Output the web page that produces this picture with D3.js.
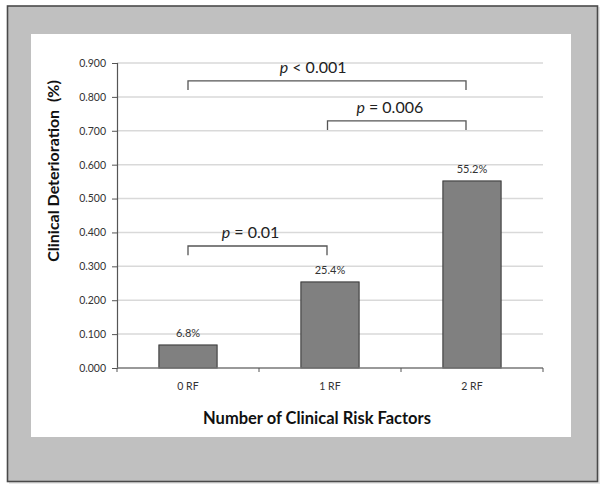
<!DOCTYPE html>
<html>
<head>
<meta charset="utf-8">
<script src="https://cdn.jsdelivr.net/npm/d3@7"></script>
<style>
  html, body { margin: 0; padding: 0; background: #ffffff; }
  svg { display: block; }
</style>
</head>
<body>
<svg id="chart" width="606" height="493"></svg>
<script>
// ---- data ----
const categories = ["0 RF", "1 RF", "2 RF"];
const values = [0.068, 0.254, 0.552];
const valueLabels = ["6.8%", "25.4%", "55.2%"];
const yTicks = [0, 0.1, 0.2, 0.3, 0.4, 0.5, 0.6, 0.7, 0.8, 0.9];
const brackets = [
  { from: "0 RF", to: "2 RF", high: 0.847, leg: 0.820, label: "< 0.001" },
  { from: "1 RF", to: "2 RF", high: 0.729, leg: 0.702, label: "= 0.006" },
  { from: "0 RF", to: "1 RF", high: 0.360, leg: 0.333, label: "= 0.01" }
];
const yTitle = "Clinical Deterioration  (%)";
const xTitle = "Number of Clinical Risk Factors";

// ---- layout ----
const svg = d3.select("#chart");
const font = "Lato, 'Open Sans', 'DejaVu Sans', sans-serif";

// outer frame
svg.append("rect").attr("x", 9).attr("y", 7).attr("width", 591).attr("height", 477)
  .attr("fill", "#d8d8d8").attr("opacity", 0.6);
svg.append("rect").attr("x", 7.5).attr("y", 6).attr("width", 590).attr("height", 475.5)
  .attr("fill", "#c0c0c0").attr("stroke", "#4a4a4a").attr("stroke-width", 1.6);
svg.append("rect").attr("x", 31).attr("y", 34).attr("width", 540).attr("height", 403)
  .attr("fill", "#ffffff");

const pLeft = 117, pRight = 543, pTop = 63, pBottom = 368;

const x = d3.scaleBand().domain(categories).range([pLeft, pRight]).paddingInner(0.59).paddingOuter(0.295);
const xb = d3.scaleBand().domain(categories).range([pLeft, pRight]).padding(0);
const y = d3.scaleLinear().domain([0, 0.9]).range([pBottom, pTop]);

// gridlines
svg.append("g").selectAll("line").data(yTicks.filter(d => d > 0)).join("line")
  .attr("x1", pLeft).attr("x2", pRight)
  .attr("y1", d => y(d)).attr("y2", d => y(d))
  .attr("stroke", "#d9d9d9").attr("stroke-width", 1.5);

// y axis
const yAxis = svg.append("g").attr("transform", `translate(${pLeft},0)`)
  .call(d3.axisLeft(y).tickValues(yTicks).tickFormat(d3.format(".3f")).tickSize(5).tickPadding(6));
yAxis.select(".domain").attr("stroke", "#555").attr("stroke-width", 1.2);
yAxis.selectAll(".tick line").attr("stroke", "#555");
yAxis.selectAll("text").attr("font-family", font).attr("font-size", 10.5).attr("fill", "#333");

// bars
svg.append("g").selectAll("rect").data(values).join("rect")
  .attr("x", (d, i) => x(categories[i]))
  .attr("width", x.bandwidth())
  .attr("y", d => y(d))
  .attr("height", d => y(0) - y(d))
  .attr("fill", "#808080").attr("stroke", "#333").attr("stroke-width", 1);

// value labels
svg.append("g").selectAll("text").data(values).join("text")
  .attr("x", (d, i) => x(categories[i]) + x.bandwidth() / 2)
  .attr("y", d => y(d) - 8)
  .attr("text-anchor", "middle")
  .attr("font-family", font).attr("font-size", 11).attr("fill", "#333")
  .text((d, i) => valueLabels[i]);

// x axis
const xAxisG = svg.append("g").attr("transform", `translate(0,${pBottom})`);
xAxisG.append("line").attr("x1", pLeft).attr("x2", pRight).attr("y1", 0).attr("y2", 0)
  .attr("stroke", "#777").attr("stroke-width", 1.5);
const xTickPos = categories.map(c => xb(c)).concat([pRight]);
xAxisG.selectAll(".xt").data(xTickPos).join("line").attr("class", "xt")
  .attr("x1", d => d).attr("x2", d => d).attr("y1", 0).attr("y2", 4)
  .attr("stroke", "#555");
xAxisG.selectAll(".xl").data(categories).join("text").attr("class", "xl")
  .attr("x", d => x(d) + x.bandwidth() / 2).attr("y", 22)
  .attr("text-anchor", "middle").attr("font-family", font).attr("font-size", 10.5).attr("fill", "#333")
  .text(d => d);

// brackets (left end just right of centre, right end slightly left)
const bg = svg.append("g");
brackets.forEach(b => {
  const i1 = categories.indexOf(b.from), i2 = categories.indexOf(b.to);
  const x1 = x(b.from) + x.bandwidth() / 2 - i1 * 2.5;
  const x2 = x(b.to) + x.bandwidth() / 2 - i2 * 3;
  bg.append("path")
    .attr("d", `M${x1},${y(b.leg)}V${y(b.high)}H${x2}V${y(b.leg)}`)
    .attr("fill", "none").attr("stroke", "#555").attr("stroke-width", 1.3);
  const t = bg.append("text")
    .attr("x", x1 + (x2 - x1) * 0.45)
    .attr("y", y(b.high) - 8)
    .attr("text-anchor", "middle")
    .attr("font-family", font).attr("font-size", 16).attr("fill", "#222");
  t.append("tspan").attr("font-style", "italic").text("p");
  t.append("tspan").text(" " + b.label);
});

// axis titles
svg.append("text")
  .attr("transform", `translate(59,171) rotate(-90)`)
  .attr("text-anchor", "middle")
  .attr("xml:space", "preserve").style("white-space", "pre")
  .attr("font-family", font).attr("font-size", 16).attr("font-weight", "bold").attr("fill", "#111")
  .text(yTitle);
svg.append("text")
  .attr("x", 317).attr("y", 424)
  .attr("text-anchor", "middle")
  .attr("font-family", font).attr("font-size", 16.5).attr("font-weight", "bold").attr("fill", "#111")
  .text(xTitle);
</script>
</body>
</html>
